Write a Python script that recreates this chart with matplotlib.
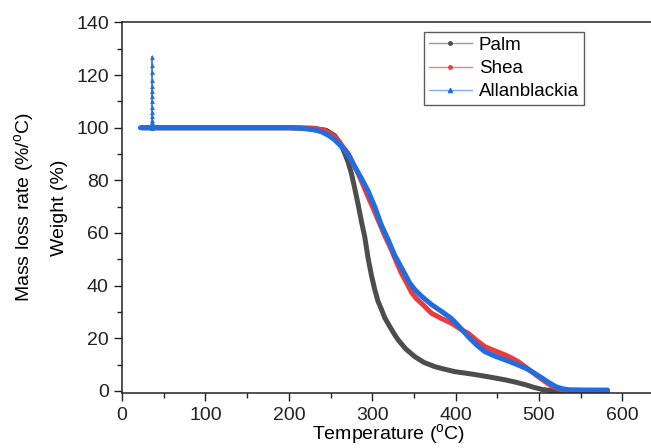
import matplotlib.pyplot as plt
from matplotlib.lines import Line2D
from matplotlib.ticker import MultipleLocator

plt.rcParams['font.family'] = ['Liberation Sans', 'DejaVu Sans']
plt.rcParams['mathtext.fontset'] = 'custom'
plt.rcParams['mathtext.rm'] = 'Liberation Sans'

# TGA curves (temperature in degC, weight in %)
palm_t = [24, 60, 100, 150, 200, 230, 245, 255, 262, 267, 271, 275, 279, 283, 287, 291, 295,
          299, 303, 307, 311, 315, 320, 326, 331, 340, 351, 362, 375, 387, 399, 419, 440, 459,
          472, 484, 494, 504, 516, 530, 582]
palm_w = [100, 100, 100, 100, 100, 99.8, 99, 97, 94, 90.3, 87, 82.7, 77, 71, 64.5, 58.6, 50.5,
          44, 38.5, 34, 31, 27.8, 25, 21.8, 19.4, 16, 13, 10.8, 9.2, 8.2, 7.3, 6.4, 5.3, 4.2,
          3.3, 2.3, 1.3, 0.5, 0.05, 0, 0]

shea_t = [24, 60, 100, 150, 200, 230, 243, 255, 263, 271, 277, 283, 289, 295, 301, 307, 315,
          323, 329, 335, 341, 347, 353, 359, 371, 383, 395, 401, 407, 415, 425, 435, 447, 459,
          467, 475, 485, 496, 506, 516, 524, 532, 560, 582]
shea_w = [100, 100, 100, 100, 100, 99.7, 99, 96.6, 93.5, 90.3, 86.5, 82.7, 78.3, 73.8, 69.5,
          65, 59, 53.6, 49, 44.7, 41.2, 37.5, 35, 33.3, 29.5, 27.5, 25.7, 24.5, 23.2, 21.9,
          19.2, 16.8, 15.2, 13.7, 12.5, 11.1, 8.8, 6.1, 3.8, 1.6, 0.7, 0.1, 0, 0]

allan_t = [22, 36, 60, 100, 150, 200, 215, 230, 239, 247, 255, 261, 267, 273, 279, 287, 295,
           303, 311, 319, 327, 333, 339, 345, 351, 359, 371, 383, 395, 401, 407, 415, 425, 435,
           447, 459, 472, 484, 494, 504, 512, 520, 528, 536, 560, 582]
allan_w = [100, 100, 100, 100, 100, 100, 99.8, 99.2, 98.5, 97.2, 95.4, 93.5, 91.6, 88.8, 85.2,
           80.8, 76, 70, 63, 57.5, 51.5, 48, 44.5, 41, 38.5, 36, 32.8, 30.2, 27.5, 25.5, 23.5,
           20.6, 17.5, 14.9, 13.2, 11.8, 10.2, 8.6, 6.8, 4.8, 3.1, 1.6, 0.8, 0.4, 0.3, 0.3]

# spike of the Allanblackia curve near 36 degC
spike_t = 35.8
spike_w = [100, 101, 102, 103, 104.5, 106, 108, 110, 112, 114, 116, 118, 121, 124, 127]

c_palm = '#4d4d4d'
c_shea = '#ee3a3a'
c_allan = '#1f6de0'

fig = plt.figure(figsize=(6.51, 4.48), dpi=100)
ax = fig.add_axes([0.1874, 0.1217, 0.82, 0.8281])

for t, w, c in [(palm_t, palm_w, c_palm), (shea_t, shea_w, c_shea), (allan_t, allan_w, c_allan)]:
    ax.plot(t, w, color=c, lw=3.6, solid_capstyle='round', solid_joinstyle='round')
ax.plot([spike_t] * len(spike_w), spike_w, color=c_allan, lw=1.2, marker='^', ms=3.5,
        markeredgewidth=0)

ax.set_xlim(0, 640)
ax.set_ylim(-1, 140)
ax.xaxis.set_major_locator(MultipleLocator(100))
ax.xaxis.set_minor_locator(MultipleLocator(50))
ax.yaxis.set_major_locator(MultipleLocator(20))
ax.yaxis.set_minor_locator(MultipleLocator(10))
ax.tick_params(which='major', direction='out', length=6, width=1, labelsize=14, colors='#222222')
ax.tick_params(which='minor', direction='out', length=3.5, width=1, colors='#222222')
ax.spines['right'].set_visible(False)
for s in ['left', 'bottom', 'top']:
    ax.spines[s].set_linewidth(1.1)
    ax.spines[s].set_color('#222222')

ax.set_xlabel(r'Temperature ($^{\rm o}$C)', fontsize=14, labelpad=-1)
fig.text(0.038, 0.537, r'Mass loss rate (%/$^{\rm o}$C)', rotation=90, fontsize=14,
         ha='center', va='center')
fig.text(0.092, 0.537, 'Weight (%)', rotation=90, fontsize=14, ha='center', va='center')

handles = [
    Line2D([], [], color='#9a9a9a', lw=1, marker='o', ms=2.5, mfc=c_palm, mec=c_palm),
    Line2D([], [], color='#f08080', lw=1, marker='o', ms=2.5, mfc=c_shea, mec=c_shea),
    Line2D([], [], color='#80aef0', lw=1, marker='^', ms=3, mfc=c_allan, mec=c_allan),
]
leg = ax.legend(handles, ['Palm', 'Shea', 'Allanblackia'], loc='upper left',
                bbox_to_anchor=(0.566, 0.974), fontsize=13.5, frameon=True, fancybox=False,
                edgecolor='#333333', handlelength=2.3, handletextpad=0.37, borderpad=0.25,
                labelspacing=0.32, borderaxespad=0)
leg.get_frame().set_linewidth(1)

fig.savefig('out.png', dpi=100)
